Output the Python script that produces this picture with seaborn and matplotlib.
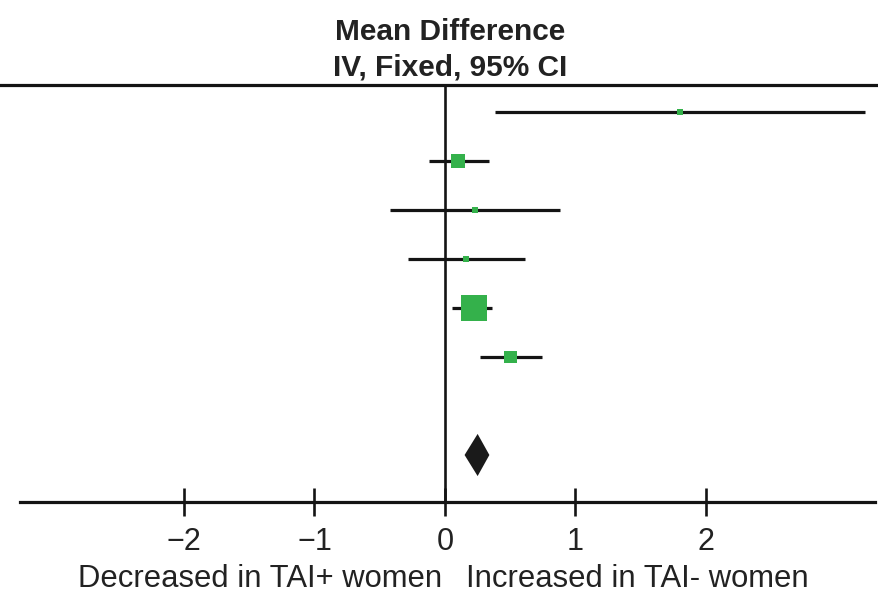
import numpy as np
import pandas as pd
import matplotlib
matplotlib.use("Agg")
import matplotlib.pyplot as plt
import matplotlib.transforms as mtrans
import seaborn as sns

# ---- data ----
rows = [0, 1, 2, 3, 4, 5]
mean_diff = [1.80, 0.10, 0.23, 0.16, 0.22, 0.50]
ci_low = [0.38, -0.12, -0.42, -0.28, 0.05, 0.27]
ci_high = [3.22, 0.34, 0.88, 0.61, 0.36, 0.74]
weight = [2.6, 17.2, 2.6, 3.4, 59.4, 14.8]
pooled_row = 7
pooled_md = 0.25
pooled_low = 0.15
pooled_high = 0.34
tick_values = [-2, -1, 0, 1, 2]
tick_labels = ["\u22122", "\u22121", "0", "1", "2"]
title_lines = ["Mean Difference", "IV, Fixed, 95% CI"]
left_label = "Decreased in TAI+ women"
right_label = "Increased in TAI- women"

df = pd.DataFrame({"row": rows, "md": mean_diff, "lo": ci_low,
                   "hi": ci_high, "w": weight})

sns.set_style("white")
plt.rcParams["font.family"] = ["Liberation Sans", "DejaVu Sans"]

W, H = 879, 595
fig = plt.figure(figsize=(W / 100, H / 100), dpi=100)
ax_top_px, ax_bot_px = 85, 502
ax = fig.add_axes([0, 1 - ax_bot_px / H, 1, (ax_bot_px - ax_top_px) / H])

zero_px, unit_px = 445, 130.5
ax.set_xlim(-zero_px / unit_px, (W - zero_px) / unit_px)
row_px0, row_step = 112, 49
ax.set_ylim((ax_bot_px - row_px0) / row_step, (ax_top_px - row_px0) / row_step)

line_col = "#141414"
green = "#34b14b"

# CI lines
ax.hlines(df["row"], df["lo"], df["hi"], color=line_col, lw=2.3, zorder=2)
# squares (area proportional to weight)
k = 5.9
sns.scatterplot(data=df, x="md", y="row", size="w",
                sizes=(min(weight) * k, max(weight) * k),
                marker="s", color=green, linewidth=0, legend=False,
                ax=ax, zorder=3)
# pooled diamond
dh = 0.43
ax.fill([pooled_low, pooled_md, pooled_high, pooled_md],
        [pooled_row, pooled_row - dh, pooled_row, pooled_row + dh],
        color="#1a1a1a", lw=0, zorder=3)
# zero line
ax.axvline(0, color=line_col, lw=1.9, zorder=1)

for s in ["left", "right"]:
    ax.spines[s].set_visible(False)
ax.spines["top"].set_linewidth(2.3)
ax.spines["top"].set_color(line_col)
ax.spines["bottom"].set_linewidth(2.3)
ax.spines["bottom"].set_color(line_col)
ax.spines["bottom"].set_bounds((20 - zero_px) / unit_px, (875 - zero_px) / unit_px)

ax.set_xticks(tick_values)
ax.set_xticklabels(tick_labels)
ax.set_yticks([])
ax.tick_params(axis="x", bottom=True, direction="inout", length=19.5, width=1.9,
               color=line_col, pad=8, labelsize=22, labelcolor="#222222")
ax.set_xlabel("")
ax.set_ylabel("")

tr = mtrans.blended_transform_factory(ax.transData, fig.transFigure)
ax.text(-0.02, 1 - 587 / H, left_label, transform=tr, ha="right",
        va="baseline", fontsize=22.3, color="#222222")
ax.text(0.16, 1 - 587 / H, right_label, transform=tr, ha="left",
        va="baseline", fontsize=22.3, color="#222222")

title_x = (450 - zero_px) / unit_px
ax.text(title_x, 1 - 40 / H, title_lines[0], transform=tr, ha="center",
        va="baseline", fontsize=21.5, fontweight="bold", color="#222222")
ax.text(title_x, 1 - 75 / H, title_lines[1], transform=tr, ha="center",
        va="baseline", fontsize=21.5, fontweight="bold", color="#222222")

fig.savefig("out.png", dpi=100)
